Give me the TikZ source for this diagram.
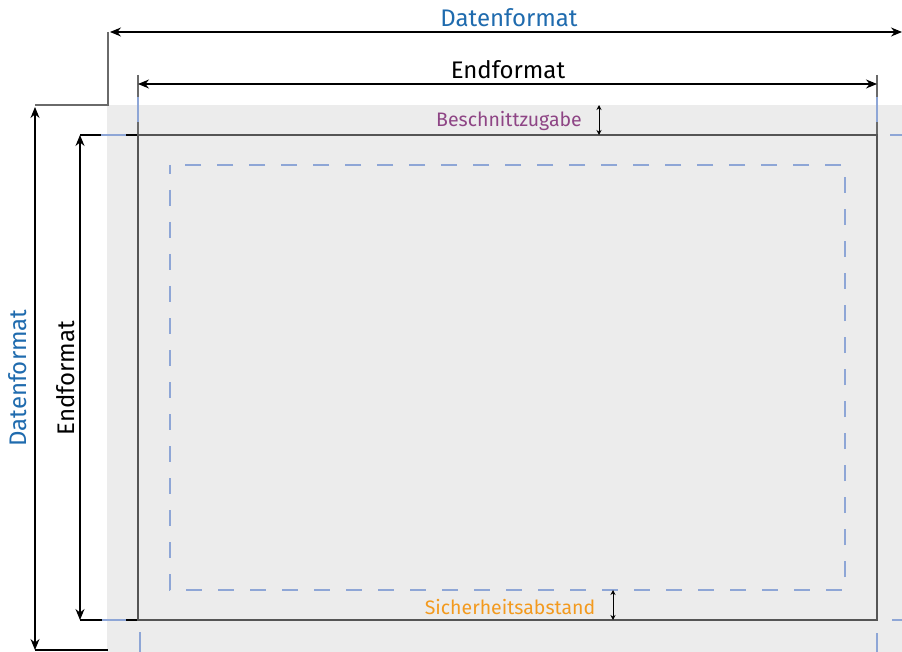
\documentclass[tikz,border=0pt]{standalone}
\usepackage{fontspec}
\setmainfont{Fira Sans}
\usetikzlibrary{arrows.meta}
\definecolor{bleedgray}{HTML}{ECECEC}
\definecolor{datblue}{HTML}{1F6BAE}
\definecolor{purp}{HTML}{8E4585}
\definecolor{orng}{HTML}{F39A1E}
\definecolor{safeblue}{HTML}{8EA6D6}
\definecolor{trimgray}{HTML}{555555}
\definecolor{extgray}{HTML}{6A6A6A}
\tikzset{
  dimarrow/.style={line width=1.1pt, black, {Stealth[length=11pt,width=9pt]}-{Stealth[length=11pt,width=9pt]}},
  smallarrow/.style={line width=1pt, black, {Stealth[length=5pt,width=5pt]}-{Stealth[length=5pt,width=5pt]}},
  extline/.style={line width=1.1pt, extgray},
  trimline/.style={line width=1.4pt, trimgray},
  cropmark/.style={line width=1.2pt, safeblue},
  safebox/.style={line width=2.5pt, safeblue, dash pattern=on 16pt off 16pt, dash phase=7pt},
  biglabel/.style={inner sep=0pt, font=\fontsize{24}{26}\selectfont},
  smalllabel/.style={inner sep=0pt, font=\fontsize{19.5}{21}\selectfont},
}
\begin{document}
\begin{tikzpicture}[x=1pt,y=-1pt]
\useasboundingbox (0,0) rectangle (902,652);
% bleed area
\fill[bleedgray] (107,105) rectangle (902,652);
% coordinates
\coordinate (dtl) at (110,32);
\coordinate (dtr) at (902,32);
\coordinate (dlt) at (35,107);
\coordinate (dlb) at (35,650);
\coordinate (etl) at (138,84);
\coordinate (etr) at (877,84);
\coordinate (elt) at (80,135);
\coordinate (elb) at (80,620);
% extension lines
\draw[extline] (108,32) -- (108,105) -- (35,105);
\draw[line width=1.1pt, black] (35,650) -- (108,650);
\draw[extline] (138,75) -- (138,620);
\draw[extline] (877,75) -- (877,620);
\draw[line width=1.1pt, black] (80,135) -- (138,135);
\draw[line width=1.1pt, black] (80,620) -- (138,620);
% crop marks
\draw[cropmark] (138,97) -- (138,122);
\draw[cropmark] (101,135) -- (126,135);
\draw[cropmark] (877,97) -- (877,122);
\draw[cropmark] (890,135) -- (902,135);
\draw[cropmark] (102,620) -- (126,620);
\draw[cropmark] (140,632) -- (140,652);
\draw[cropmark] (892,620) -- (902,620);
\draw[cropmark] (877,633) -- (877,652);
% trim box
\draw[trimline] (138,135) rectangle (877,620);
% safety box
\draw[safebox] (170,165) rectangle (845,590);
% dimension arrows
\draw[dimarrow] (dtl) -- (dtr);
\draw[dimarrow] (etl) -- (etr);
\draw[dimarrow] (dlt) -- (dlb);
\draw[dimarrow] (elt) -- (elb);
\draw[smallarrow] (599,105) -- (599,135);
\draw[smallarrow] (613,590) -- (613,620);
% labels
\node[biglabel, text=datblue] (ldt) at (509,18) {Datenformat};
\node[biglabel] (let) at (508,70) {Endformat};
\node[biglabel, text=datblue, rotate=90] (ldl) at (18,378) {Datenformat};
\node[biglabel, rotate=90] (lel) at (66,378) {Endformat};
\node[smalllabel, text=purp] (lb) at (509,121) {Beschnittzugabe};
\node[smalllabel, text=orng] (ls) at (510,607) {Sicherheitsabstand};
\end{tikzpicture}
\end{document}
